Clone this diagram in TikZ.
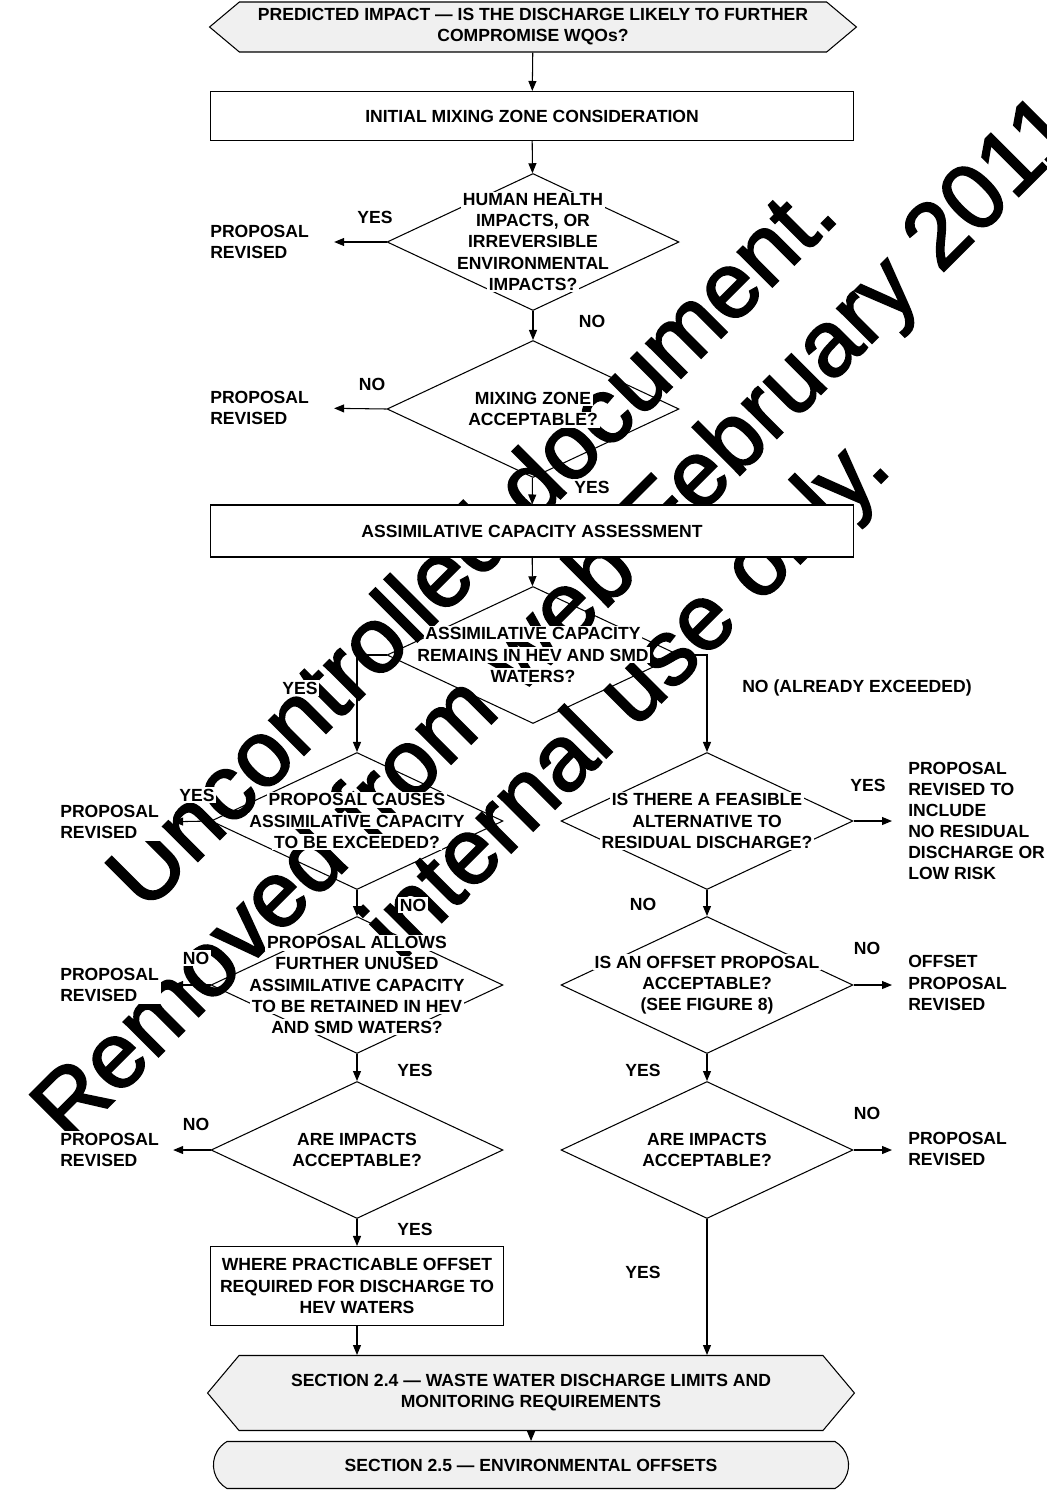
\documentclass[tikz,border=0pt]{standalone}
\usepackage{fontspec}
\setmainfont{Liberation Sans}
\newfontfamily\stampfont[FakeBold=2]{Liberation Sans}
\usetikzlibrary{shapes.geometric,shapes.symbols,shapes.misc,arrows.meta}

% white patch behind a line of text, so the stamp does not run through it
\newcommand{\knock}[1]{{\setlength{\fboxsep}{1pt}\colorbox{white}{#1}}}

\tikzset{
  box/.style={draw, fill=white, minimum width=12.86cm, minimum height=0.98cm},
  decision/.style={draw, diamond, inner sep=-1.5cm, minimum width=5.84cm, minimum height=2.74cm},
  outcome/.style={align=left, inner sep=1pt, fill=white, anchor=west},
  answer/.style={inner sep=1pt, fill=white},
  flow/.style={-{Triangle[length=0.2cm,width=0.16cm]}},
  section/.style={draw, fill=black!6, signal, signal to=west and east, minimum width=12.94cm, minimum height=1cm, signal pointer angle=80},
  stamp/.style={font=\stampfont\fontsize{53}{60}\selectfont, rotate=45, inner sep=0pt},
}

\begin{document}
\begin{tikzpicture}[x=0.02cm, y=-0.02cm, line width=0.6pt,
  every node/.style={font=\fontsize{10}{12}\selectfont\bfseries, align=center}]
	\useasboundingbox (0,0) rectangle (1046,1491);

	% stamp across the page, under everything else
	\node[stamp] (stampA) at (470,542) {Uncontrolled document.};
	\node[stamp] (stampB) at (559,622) {Removed from web February 2011};
	\node[stamp] (stampC) at (630,700) {internal use only.};

	% main column
	\node[section] (predict) at (533,27) {PREDICTED IMPACT — IS THE DISCHARGE LIKELY TO FURTHER\\COMPROMISE WQOs?};
	\node[box] (initial) at (532,116) {INITIAL MIXING ZONE CONSIDERATION};
	\node[decision] (health) at (533,242) {\knock{HUMAN HEALTH}\\\knock{IMPACTS, OR}\\\knock{IRREVERSIBLE}\\\knock{ENVIRONMENTAL}\\\knock{IMPACTS?}};
	\node[decision] (mixing) at (533,409) {\knock{MIXING ZONE}\\\knock{ACCEPTABLE?}};
	\node[box, minimum height=1.04cm] (assess) at (532,531) {ASSIMILATIVE CAPACITY ASSESSMENT};
	\node[decision] (remains) at (533,655) {\knock{ASSIMILATIVE CAPACITY}\\\knock{REMAINS IN HEV AND SMD}\\\knock{WATERS?}};

	% capacity remains
	\node[decision] (causes) at (357,821) {\knock{PROPOSAL CAUSES}\\\knock{ASSIMILATIVE CAPACITY}\\\knock{TO BE EXCEEDED?}};
	\node[decision] (allows) at (357,985) {\knock{PROPOSAL ALLOWS}\\\knock{FURTHER UNUSED}\\\knock{ASSIMILATIVE CAPACITY}\\\knock{TO BE RETAINED IN HEV}\\\knock{AND SMD WATERS?}};
	\node[decision] (impactsL) at (357,1150) {\knock{ARE IMPACTS}\\\knock{ACCEPTABLE?}};
	\node[box, minimum width=5.86cm, minimum height=1.58cm] (required) at (357,1286) {WHERE PRACTICABLE OFFSET\\REQUIRED FOR DISCHARGE TO\\HEV WATERS};

	% capacity already exceeded
	\node[decision] (feasible) at (707,821) {\knock{IS THERE A FEASIBLE}\\\knock{ALTERNATIVE TO}\\\knock{RESIDUAL DISCHARGE?}};
	\node[decision] (offset) at (707,985) {\knock{IS AN OFFSET PROPOSAL}\\\knock{ACCEPTABLE?}\\\knock{(SEE FIGURE 8)}};
	\node[decision] (impactsR) at (707,1150) {\knock{ARE IMPACTS}\\\knock{ACCEPTABLE?}};

	\node[section, minimum height=1.5cm, signal pointer angle=100] (limits) at (531,1393) {SECTION 2.4 — WASTE WATER DISCHARGE LIMITS AND\\MONITORING REQUIREMENTS};
	\node[draw, fill=black!6, rounded rectangle, rounded rectangle arc length=120, minimum width=12.94cm, minimum height=0.94cm] (offsets) at (531,1465) {SECTION 2.5 — ENVIRONMENTAL OFFSETS};

	% revised proposals
	\node[outcome] (revHealth) at (208,242) {PROPOSAL\\REVISED};
	\node[outcome] (revMixing) at (208,408) {PROPOSAL\\REVISED};
	\node[outcome] (revCauses) at (58,822) {PROPOSAL\\REVISED};
	\node[outcome] (revAllows) at (58,985) {PROPOSAL\\REVISED};
	\node[outcome] (revImpactsL) at (58,1150) {PROPOSAL\\REVISED};
	\node[outcome] (revInclude) at (906,821) {PROPOSAL\\REVISED TO\\INCLUDE\\NO RESIDUAL\\DISCHARGE OR\\LOW RISK};
	\node[outcome] (revOffset) at (906,983) {OFFSET\\PROPOSAL\\REVISED};
	\node[outcome] (revImpactsR) at (906,1149) {PROPOSAL\\REVISED};

	% answers
	\node[answer] (yHealth) at (375,217) {YES};
	\node[answer] (nHealth) at (592,321) {NO};
	\node[answer] (nMixing) at (372,384) {NO};
	\node[answer] (yMixing) at (592,487) {YES};
	\node[answer] (yRemains) at (300,688) {YES};
	\node[answer] (nRemains) at (857,688) {NO (ALREADY EXCEEDED)};
	\node[answer] (yCauses) at (197,795) {YES};
	\node[answer] (nCauses) at (413,905) {NO};
	\node[answer] (nAllows) at (196,958) {NO};
	\node[answer] (yAllows) at (415,1070) {YES};
	\node[answer] (nImpactsL) at (196,1124) {NO};
	\node[answer] (yImpactsL) at (415,1229) {YES};
	\node[answer] (yFeasible) at (868,785) {YES};
	\node[answer] (nFeasible) at (643,904) {NO};
	\node[answer] (nOffset) at (867,948) {NO};
	\node[answer] (yOffset) at (643,1070) {YES};
	\node[answer] (nImpactsR) at (867,1113) {NO};
	\node[answer] (yImpactsR) at (643,1272) {YES};

	% connectors
	\draw[flow] (predict) -- (initial);
	\draw[flow] (initial) -- (health);
	\draw[flow] (health) -- (mixing);
	\draw[flow] (mixing) -- (assess);
	\draw[flow] (assess) -- (remains);
	\draw[flow] (remains.west) -| (causes.north);
	\draw[flow] (remains.east) -| (feasible.north);
	\draw[flow] (causes) -- (allows);
	\draw[flow] (allows) -- (impactsL);
	\draw[flow] (impactsL) -- (required);
	\draw[flow] (required.south) -- (required.south |- limits.north);
	\draw[flow] (feasible) -- (offset);
	\draw[flow] (offset) -- (impactsR);
	\draw[flow] (impactsR.south) -- (impactsR.south |- limits.north);
	\draw[flow] (limits) -- (offsets);

	\draw[flow, shorten >=0.46cm] (health.west) -- (revHealth.east);
	\draw[flow, shorten >=0.46cm] (mixing.west) -- (revMixing.east);
	\draw[flow, shorten >=0.24cm] (causes.west) -- (revCauses.east);
	\draw[flow, shorten >=0.24cm] (allows.west) -- (revAllows.east);
	\draw[flow, shorten >=0.24cm] (impactsL.west) -- (revImpactsL.east);
	\draw[flow, shorten >=0.28cm] (feasible.east) -- (feasible.east -| revInclude.west);
	\draw[flow, shorten >=0.28cm] (offset.east) -- (offset.east -| revOffset.west);
	\draw[flow, shorten >=0.28cm] (impactsR.east) -- (impactsR.east -| revImpactsR.west);
\end{tikzpicture}
\end{document}
